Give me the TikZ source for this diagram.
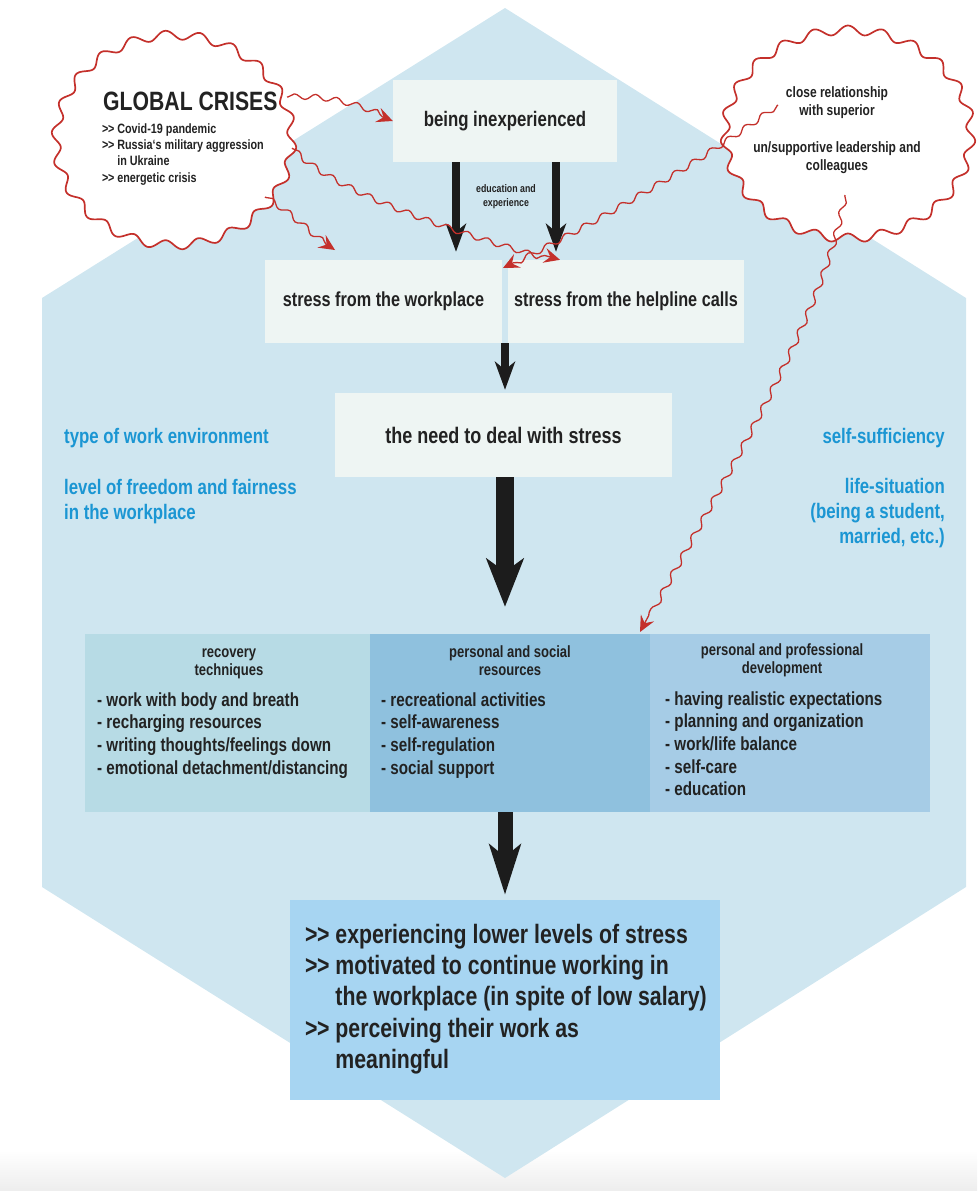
\documentclass[tikz,border=0pt]{standalone}
\usepackage{fontspec}
\setmainfont{Liberation Sans}[FakeStretch=0.8]
\usetikzlibrary{arrows.meta,decorations.pathmorphing,shapes.geometric}
\definecolor{hexbg}{HTML}{CFE6F0}
\definecolor{boxw}{HTML}{EEF5F3}
\definecolor{recc}{HTML}{B7DBE5}
\definecolor{persc}{HTML}{8FC1DE}
\definecolor{devc}{HTML}{A6CCE6}
\definecolor{outc}{HTML}{A7D5F2}
\definecolor{bluet}{HTML}{1B96D3}
\definecolor{redc}{HTML}{C4302B}
\definecolor{txt}{HTML}{222222}
\definecolor{blk}{HTML}{1C1C1C}
\newcommand{\fs}[2]{\fontsize{#1}{#2}\selectfont}
\newcommand{\st}[1]{\rule{0pt}{#1pt}}
\newcommand{\gtgt}{>\kern-0.5pt>}
\begin{document}
\begin{tikzpicture}[x=1pt,y=-1pt,
  every node/.style={text=txt, font=\bfseries},
  wbox/.style={fill=boxw, inner sep=0pt},
  cbox/.style={inner sep=0pt},
  tx/.style={inner sep=0pt},
  cloudnode/.style={ellipse, inner sep=0pt},
  cloudline/.style={draw=redc, fill=white, line width=1.7pt, line join=round},
  wavy/.style={draw=redc, line width=1.3pt, line join=round, decorate,
    decoration={snake, amplitude=2.8pt, segment length=21pt, pre length=1pt, post length=10pt},
    -{Stealth[length=16pt,width=15pt,inset=6pt]}},
  side/.style={text=bluet, inner sep=0pt, font=\bfseries\fs{21}{25}},
  bsmall/.style={blk, line width=8pt, -{Stealth[length=28pt,width=20pt,inset=8pt]}},
  bbig/.style={blk, line width=18pt, -{Stealth[length=48pt,width=37pt,inset=13pt]}},
  bbot/.style={blk, line width=15pt, -{Stealth[length=50pt,width=31pt,inset=12pt]}}
]
\useasboundingbox (0,0) rectangle (977,1191);
\shade[top color=white, bottom color=black!7] (0,1150) rectangle (977,1191);
% hexagon background
\fill[hexbg] (505,8) -- (966,298) -- (966,887) -- (505,1178) -- (42,887) -- (42,298) -- cycle;

% boxes
\node[wbox, minimum width=224pt, minimum height=82pt, font=\bfseries\fs{21}{24}] (inexp) at (505,121) {being inexperienced};
\node[wbox, minimum width=237pt, minimum height=83pt, font=\bfseries\fs{20.3}{24}] (swork) at (383.5,301.5) {stress from the workplace};
\node[wbox, minimum width=236pt, minimum height=83pt, font=\bfseries\fs{20.3}{24}] (scalls) at (626,301.5) {stress from the helpline calls};
\node[wbox, minimum width=337pt, minimum height=84pt, font=\bfseries\fs{22.5}{26}] (need) at (503.5,435) {the need to deal with stress};

\node[fill=recc, cbox, minimum width=285pt, minimum height=178pt] (rec) at (227.5,723) {};
\node[fill=persc, cbox, minimum width=280pt, minimum height=178pt] (pers) at (510,723) {};
\node[fill=devc, cbox, minimum width=280pt, minimum height=178pt] (dev) at (790,723) {};
\node[fill=outc, cbox, minimum width=430pt, minimum height=200pt] (out) at (505,1000) {};

% box titles and lists
\node[tx, align=center, anchor=north, font=\bfseries\fs{16.3}{18.5}] (rect) at (229,644) {\st{13}recovery\\techniques};
\node[tx, align=left, anchor=north west, font=\bfseries\fs{19}{22.6}] (recl) at (97,691) {\st{15}- work with body and breath\\- recharging resources\\- writing thoughts/feelings down\\- emotional detachment/distancing};
\node[tx, align=center, anchor=north, font=\bfseries\fs{16.3}{18.5}] (perst) at (510,644) {\st{13}personal and social\\resources};
\node[tx, align=left, anchor=north west, font=\bfseries\fs{19}{22.6}] (persl) at (381,691) {\st{15}- recreational activities\\- self-awareness\\- self-regulation\\- social support};
\node[tx, align=center, anchor=north, font=\bfseries\fs{16.3}{18.5}] (devt) at (782,642) {\st{13}personal and professional\\development};
\node[tx, align=left, anchor=north west, font=\bfseries\fs{19}{22.6}] (devl) at (665,690) {\st{15}- having realistic expectations\\- planning and organization\\- work/life balance\\- self-care\\- education};
\node[tx, align=left, anchor=north west, font=\bfseries\fs{26.6}{31.3}] (outl) at (305,922) {\st{21}\gtgt{} experiencing lower levels of stress\\\gtgt{} motivated to continue working in\\\hphantom{\gtgt{} }the workplace (in spite of low salary)\\\gtgt{} perceiving their work as\\\hphantom{\gtgt{} }meaningful};

% side labels
\node[side, align=left, anchor=north west] (envl) at (64,426) {\st{17}type of work environment};
\node[side, align=left, anchor=north west] (freel) at (64,477) {\st{17}level of freedom and fairness\\in the workplace};
\node[side, align=right, anchor=north east] (selfl) at (945,426) {\st{17}self-sufficiency};
\node[side, align=right, anchor=north east] (lifel) at (945,476) {\st{17}life-situation\\(being a student,\\married, etc.)};

% black arrows
\draw[bsmall] ([xshift=-49pt]inexp.south) -- ([xshift=-49pt]inexp.south |- swork.north) [shorten >=8pt];
\draw[bsmall] ([xshift=51pt]inexp.south) -- ([xshift=51pt]inexp.south |- swork.north) [shorten >=8pt];
\node[tx, align=center, anchor=north, font=\bfseries\fs{11}{14}] (edu) at (506,183) {\st{9}education and\\experience};
\draw[bsmall] (inexp.south |- swork.south) -- (inexp.south |- need.north) [shorten >=3pt];
\draw[bbig] (inexp.south |- need.south) -- (inexp.south |- pers.north) [shorten >=27pt];
\draw[bbot] (inexp.south |- pers.south) -- (inexp.south |- out.north) [shorten >=5pt];

% clouds
\node[cloudnode, minimum width=236pt, minimum height=210pt] (gc) at (174,140) {};
\node[cloudnode, minimum width=246pt, minimum height=208pt] (rel) at (848,134) {};
\draw[cloudline] plot[domain=0:360, samples=400, variable=\t]
  ({174+(118+4.5*sin(22*\t))*cos(\t)}, {140+(105+4.5*sin(22*\t))*sin(\t)}) -- cycle;
\draw[cloudline] plot[domain=0:360, samples=400, variable=\t]
  ({848+(123+4.5*sin(23*\t))*cos(\t)}, {134+(104+4.5*sin(23*\t))*sin(\t)}) -- cycle;
\node[anchor=base west, inner sep=0pt, font=\bfseries\fs{26.5}{30}] (gct) at (103,110) {GLOBAL CRISES};
\node[tx, align=left, anchor=north west, font=\bfseries\fs{13.5}{16.3}] (gcl) at (102,123) {\st{10}\gtgt{} Covid-19 pandemic\\\gtgt{} Russia‘s military aggression\\\hphantom{\gtgt{} }in Ukraine\\\gtgt{} energetic crisis};
\node[tx, align=center, anchor=north, font=\bfseries\fs{15}{18}] (relt1) at (837,86) {\st{11}close relationship\\with superior};
\node[tx, align=center, anchor=north, font=\bfseries\fs{15}{18.5}] (relt2) at (837,141) {\st{11}un/supportive leadership and\\colleagues};

% red wavy arrows
\coordinate (s1) at (287,97);
\coordinate (s2) at (292,148);
\coordinate (s3) at (265,197);
\coordinate (s4) at (778,105);
\coordinate (s5) at (845,195);
\coordinate (e3) at (335,250);
\coordinate (e4) at (503,268);
\coordinate (e5) at (640,632);
\draw[wavy] (s1) .. controls (330,95) and (360,108) .. (inexp.west);
\draw[wavy] (s2) .. controls (322,178) and (400,215) .. ([xshift=-66pt]scalls.north);
\draw[wavy] (s3) .. controls (290,212) and (310,235) .. (e3);
\draw[wavy] (s4) .. controls (730,140) and (640,200) .. (e4);
\draw[wavy] (s5) .. controls (822,320) and (720,480) .. (e5);
\end{tikzpicture}
\end{document}
